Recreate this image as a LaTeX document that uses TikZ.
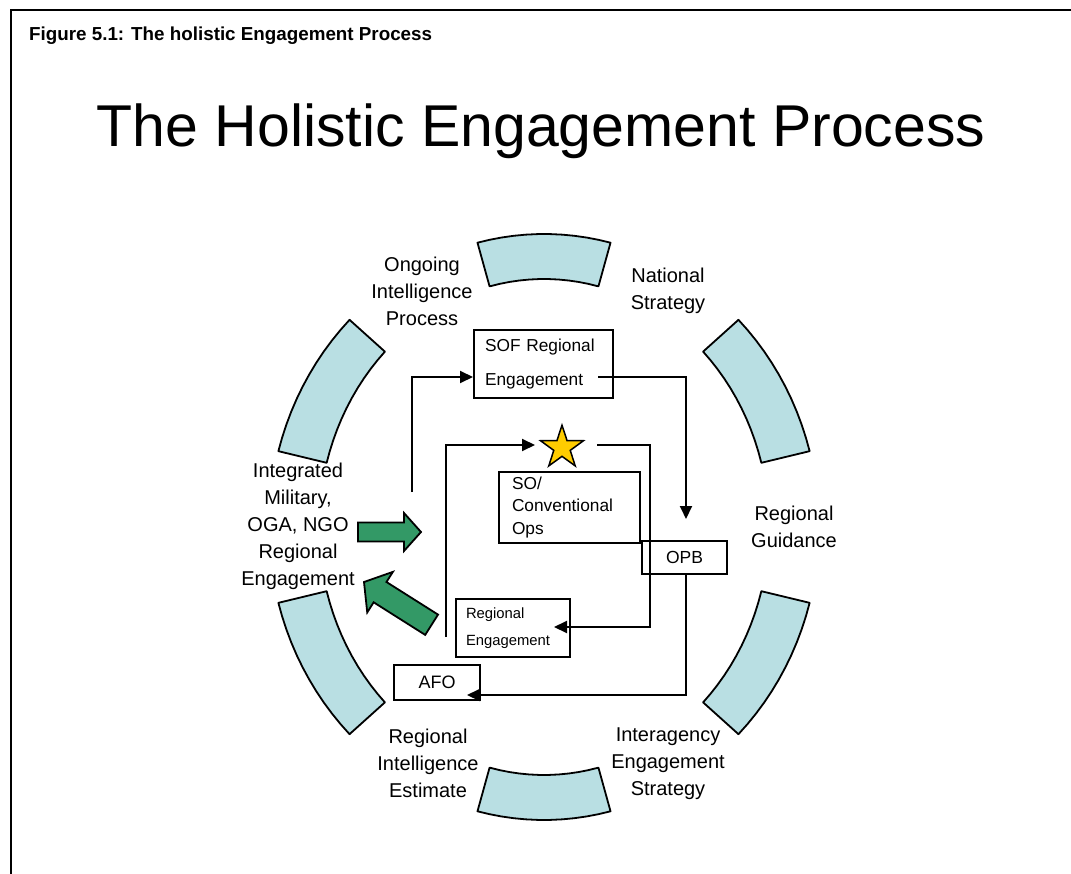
\documentclass[tikz,border=0pt]{standalone}
\usepackage{fontspec}
\setmainfont{Liberation Sans}
\usepackage{xcolor}
\usetikzlibrary{shapes.geometric,arrows.meta}

\definecolor{segblue}{RGB}{185,223,227}
\definecolor{arrowgreen}{RGB}{51,153,102}
\definecolor{staryellow}{RGB}{255,204,0}

\begin{document}
\begin{tikzpicture}[x=1pt, y=-1pt,
    segment/.style={draw=black, line width=1.8pt, fill=segblue, line join=round},
    box/.style={draw=black, line width=2pt, inner sep=0pt},
    link/.style={line width=2pt, -{Triangle[length=13pt,width=12pt]}},
    ringtext/.style={align=center, font=\fontsize{20}{27}\selectfont},
    greenarrow/.style={draw=black, line width=1.8pt, fill=arrowgreen, line join=miter}]
  \useasboundingbox (0,0) rectangle (1071,874);

  % Frame and headings
  \draw[line width=2pt] (11,874) -- (11,10) -- (1071,10);
  \node[anchor=base west, inner sep=0pt, font=\fontsize{18.8}{22}\selectfont\bfseries] (caption) at (29,41) {Figure 5.1: The holistic Engagement Process};
  \node[anchor=base, inner sep=0pt, font=\fontsize{59}{70}\selectfont] (title) at (541,147) {The Holistic Engagement Process};

  % Ring of segments
  \foreach \a/\b in {76/104, 15/45, -45/-15, -104/-76, 195/225, 135/165}
    \draw[segment] plot[domain=\a:\b, samples=12, variable=\t] ({544+275*cos(\t)},{527-293*sin(\t)})
      -- plot[domain=\b:\a, samples=12, variable=\t] ({544+225*cos(\t)},{527-248*sin(\t)}) -- cycle;

  % Texts round the ring
  \node[ringtext] (ongoing) at (422,291) {Ongoing\\Intelligence\\Process};
  \node[ringtext] (national) at (668,291) {National\\Strategy};
  \node[ringtext] (integrated) at (298,526.5) {Integrated\\Military,\\OGA, NGO\\Regional\\Engagement};
  \node[ringtext] (guidance) at (794,526.5) {Regional\\Guidance};
  \node[ringtext] (estimate) at (428,763) {Regional\\Intelligence\\Estimate};
  \node[ringtext] (interagency) at (668,764) {Interagency\\Engagement\\Strategy};

  % Boxes in the middle
  \node[box, minimum height=68pt, text width=117pt, inner xsep=11pt, align=left,
    font=\fontsize{17.3}{34}\selectfont] (sof) at (543.5,364) {SOF Regional\\Engagement};
  \node[box, minimum height=71pt, text width=115pt, inner xsep=13pt, align=left,
    font=\fontsize{17.3}{22.5}\selectfont] (soops) at (569.5,507.5) {SO/\\Conventional\\Ops};
  \node[box, minimum width=85pt, minimum height=33pt, font=\fontsize{17.5}{20}\selectfont] (opb) at (684.5,557.5) {OPB};
  \node[box, minimum height=58pt, text width=94pt, inner xsep=10pt, align=left,
    font=\fontsize{14.8}{27}\selectfont] (regeng) at (513,628) {Regional\\Engagement};
  \node[box, minimum width=86pt, minimum height=35pt, font=\fontsize{18}{20}\selectfont] (afo) at (437,682.5) {AFO};
  \node[star, star points=5, star point ratio=2.6, minimum size=45pt, inner sep=0pt,
    draw=black, line width=1.5pt, fill=staryellow] (goal) at (562,447.7) {};

  % Connectors
  \coordinate (in1) at (412,492);
  \coordinate (in2) at (446,637);
  \draw[link] (in1) |- ([shift={(0,13)}]sof.west);
  \draw[link] ([shift={(-16,13)}]sof.east) -| ([shift={(1.5,-21)}]opb.north);
  \draw[link] (in2) |- ([shift={(-27,-2.7)}]goal.center);
  \draw[link] ([shift={(35,-2.7)}]goal.center) -- ++(53,0) |- ([shift={(-17,-1)}]regeng.east);
  \draw[link] ([xshift=1.5pt]opb.south) |- ([shift={(-14,12.5)}]afo.east);

  % Green block arrows
  \draw[greenarrow, shift={(421,532)}] (0,0) -- (-17,-19) -- (-17,-9.5) -- (-63,-9.5)
    -- (-63,9.5) -- (-17,9.5) -- (-17,19) -- cycle;
  \draw[greenarrow, shift={(364,582)}, rotate=147.7] (0,0) -- (-19,-24) -- (-19,-12) -- (-80,-12)
    -- (-80,12) -- (-19,12) -- (-19,24) -- cycle;
\end{tikzpicture}
\end{document}
